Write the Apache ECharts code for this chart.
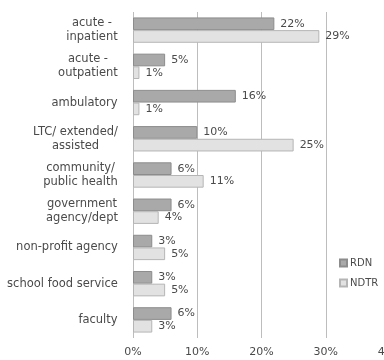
<!DOCTYPE html>
<html>
<head>
<meta charset="utf-8">
<script src="https://cdn.jsdelivr.net/npm/echarts@6/dist/echarts.min.js"></script>
<style>
  html, body { margin: 0; padding: 0; background: #fff; }
  #chart { width: 384px; height: 360px; }
</style>
</head>
<body>
<div id="chart"></div>
<script>
// Employment setting categories, listed top to bottom
const categories = [
  'acute -\ninpatient',
  'acute -\noutpatient',
  'ambulatory',
  'LTC/ extended/\nassisted',
  'community/\npublic health',
  'government\nagency/dept',
  'non-profit agency',
  'school food service',
  'faculty'
];
// Share of respondents (%) per credential
const rdnValues = [22, 5, 16, 10, 6, 6, 3, 3, 6];
const ndtrValues = [29, 1, 1, 25, 11, 4, 5, 5, 3];
// Value axis tick labels
const xTicks = [0, 10, 20, 30, 40];

const textColor = '#4a4a4a';
const font = 'DejaVu Sans';
const catFontSize = 11.5;

// Build one rich style per category so every line of a multi-line name
// is centred inside a block as wide as its longest line.
const measureCtx = document.createElement('canvas').getContext('2d');
measureCtx.font = catFontSize + 'px "' + font + '"';
const catRich = {};
categories.forEach((name, i) => {
  const w = Math.max(...name.split('\n').map(s => measureCtx.measureText(s).width));
  catRich['c' + i] = {
    width: Math.ceil(w),
    align: 'center',
    fontFamily: font,
    fontSize: catFontSize,
    color: textColor,
    lineHeight: 14
  };
});

const chart = echarts.init(document.getElementById('chart'));

const barLabel = {
  show: true,
  position: 'right',
  distance: 6,
  formatter: p => p.value + '%',
  color: textColor,
  fontFamily: font,
  fontSize: 11
};

chart.setOption({
  animation: false,
  backgroundColor: '#ffffff',
  grid: {
    left: 133, top: 12, right: -6, height: 326,
    containLabel: false,
    outerBoundsMode: 'none'
  },
  legend: {
    orient: 'vertical',
    left: 334,
    top: 253,
    itemWidth: 7,
    itemHeight: 7,
    itemGap: 10,
    icon: 'rect',
    textStyle: { color: textColor, fontFamily: font, fontSize: 10, padding: [0, 0, 0, -2] },
    data: ['RDN', 'NDTR']
  },
  xAxis: {
    type: 'value',
    min: xTicks[0],
    max: xTicks[xTicks.length - 1],
    interval: 10,
    axisLine: { show: false },
    axisTick: { show: false },
    splitLine: { show: true, lineStyle: { color: '#bdbdbd', width: 1 } },
    axisLabel: {
      color: textColor,
      fontFamily: font,
      fontSize: 11,
      margin: 9,
      hideOverlap: false,
      formatter: v => v + '%'
    }
  },
  yAxis: {
    type: 'category',
    data: categories,
    inverse: true,
    axisLine: { show: false },
    axisTick: { show: false },
    axisLabel: {
      color: textColor,
      fontFamily: font,
      fontSize: catFontSize,
      margin: 15,
      align: 'right',
      formatter: (v, i) => v.split('\n').map(s => '{c' + i + '|' + s + '}').join('\n'),
      rich: catRich
    }
  },
  series: [
    {
      name: 'RDN',
      type: 'bar',
      data: rdnValues,
      barGap: '0%',
      barCategoryGap: '30%',
      itemStyle: { color: '#a9a9a9', borderColor: '#8c8c8c', borderWidth: 1 },
      label: barLabel
    },
    {
      name: 'NDTR',
      type: 'bar',
      data: ndtrValues,
      itemStyle: { color: '#e2e2e2', borderColor: '#b5b5b5', borderWidth: 1 },
      label: barLabel
    }
  ]
});
</script>
</body>
</html>
